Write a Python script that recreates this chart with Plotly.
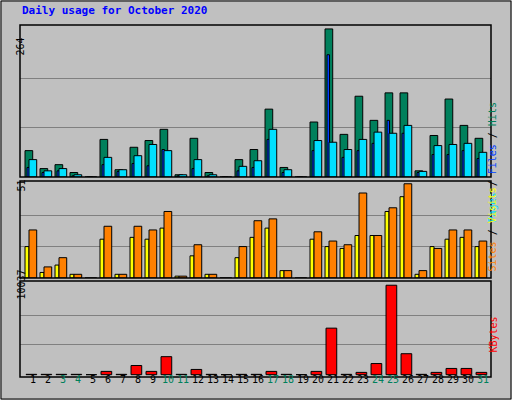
import plotly.graph_objects as go

days = list(range(1, 32))
hits  = [47,15,22,8,0,67,13,53,65,85,4,69,8,0,31,49,121,17,0,98,264,76,144,101,150,150,11,74,139,92,69]
files = [17,8,11,2,0,22,10,24,20,49,2,15,2,0,11,17,67,8,0,47,218,35,47,60,101,78,8,40,40,47,33]
pages = [31,11,15,4,0,35,13,38,58,47,4,31,4,0,19,29,85,13,0,65,62,49,67,80,78,92,10,56,58,60,44]
visits = [17,3,7,2,0,21,2,22,21,27,1,12,2,0,11,22,27,4,0,21,17,16,23,23,36,44,2,17,21,22,17]
sites  = [26,6,11,2,0,28,2,28,26,36,1,18,2,0,17,31,32,4,0,25,20,18,46,23,38,51,4,16,26,26,20]
kbytes = [40,40,40,40,0,368,40,1030,368,2022,40,588,40,0,40,40,368,40,0,368,5221,40,257,1250,10037,2353,40,257,700,700,257]
weekend = {3,4,10,11,17,18,24,25,31}

P = 15.0
fig = go.Figure()
def bars(y, color, off, w, xa, ya):
    fig.add_trace(go.Bar(x=days, y=y, offset=off/P, width=w/P, marker_color=color,
                         marker_line=dict(color="black", width=1), xaxis=xa, yaxis=ya,
                         hoverinfo="skip", showlegend=False))
bars(hits, "#00805c", -8, 7.7, "x", "y")
bars(files, "#0040ff", -6, 2.5, "x", "y")
bars(pages, "#00e0ff", -4, 7.7, "x", "y")
bars(visits, "#ffff00", -8, 4, "x2", "y2")
bars(sites, "#ff8000", -4, 7.7, "x2", "y2")
bars(kbytes, "#ff0000", -7, 10.7, "x3", "y3")

xr = [0.133, 31.53]
ax = dict(range=xr, showticklabels=False, showgrid=False, zeroline=False, fixedrange=True, showline=False)
def yax(dom, rng, grid):
    return dict(domain=dom, range=rng, tickvals=grid, showticklabels=False, showgrid=True,
                gridcolor="#808080", gridwidth=1, zeroline=False)
fig.update_layout(
    width=512, height=400, margin=dict(l=0, r=0, t=0, b=0), autosize=False,
    paper_bgcolor="#c0c0c0", plot_bgcolor="#c0c0c0", barmode="overlay",
    xaxis=dict(ax, domain=[20/512, 491/512], anchor="y"),
    xaxis2=dict(ax, domain=[20/512, 491/512], anchor="y2"),
    xaxis3=dict(ax, domain=[20/512, 491/512], anchor="y3"),
    yaxis=yax([0.5575, 0.9375], [0, 271], [88, 176]),
    yaxis2=yax([0.305, 0.5475], [0, 52.5], [17, 34]),
    yaxis3=yax([0.0575, 0.2975], [-260, 10512], [3346, 6691]),
)
shapes = [dict(type="rect", xref="paper", yref="paper", x0=0.002, x1=0.998, y0=0.0025, y1=0.9975,
               line=dict(color="#000000", width=1))]
for y0, y1 in [(0.5575, 0.9375), (0.305, 0.5475), (0.0575, 0.2975)]:
    shapes.append(dict(type="rect", xref="paper", yref="paper", x0=20/512, x1=491/512, y0=y0, y1=y1,
                       line=dict(color="#000000", width=1.5)))
fig.update_layout(shapes=shapes)

mono = "DejaVu Sans Mono"
ann = [dict(text="<b>Daily usage for October 2020</b>", x=20/512, y=1-11/400, xref="paper", yref="paper",
            xanchor="left", yanchor="middle", showarrow=False, font=dict(family=mono, size=11, color="#0000ff"))]
for txt, yp in [("264", 1-36/400), ("51", 1-186/400), ("10037", 1-302/400)]:
    ann.append(dict(text=txt, x=13/512, y=yp, xref="paper", yref="paper", textangle=-90, showarrow=False,
                    font=dict(family=mono, size=10, color="black")))
ann.append(dict(text="<span style='color:#00e0ff'>Pages</span> / <span style='color:#0040ff'>Files</span> / <span style='color:#00805c'>Hits</span>",
                x=500/512, y=1-(25+152/2)/400, xref="paper", yref="paper", textangle=-90, showarrow=False,
                font=dict(family=mono, size=10, color="black")))
ann.append(dict(text="<span style='color:#ff8000'>Sites</span> / <span style='color:#ffff00'>Visits</span>",
                x=500/512, y=1-230/400, xref="paper", yref="paper", textangle=-90, showarrow=False,
                font=dict(family=mono, size=10, color="black")))
ann.append(dict(text="KBytes", x=500/512, y=1-355/400, xref="paper", yref="paper", textangle=-90,
                showarrow=False, font=dict(family=mono, size=10, color="#ff0000")))
for d in days:
    ann.append(dict(text=str(d), x=d, y=1-387/400, xref="x3", yref="paper", showarrow=False,
                    font=dict(family=mono, size=10, color="#00805c" if d in weekend else "black")))
fig.update_layout(annotations=ann)
fig.write_html("out.html", config={"displayModeBar": False},
               post_script="document.body.style.margin='0';document.body.style.overflow='hidden';")
